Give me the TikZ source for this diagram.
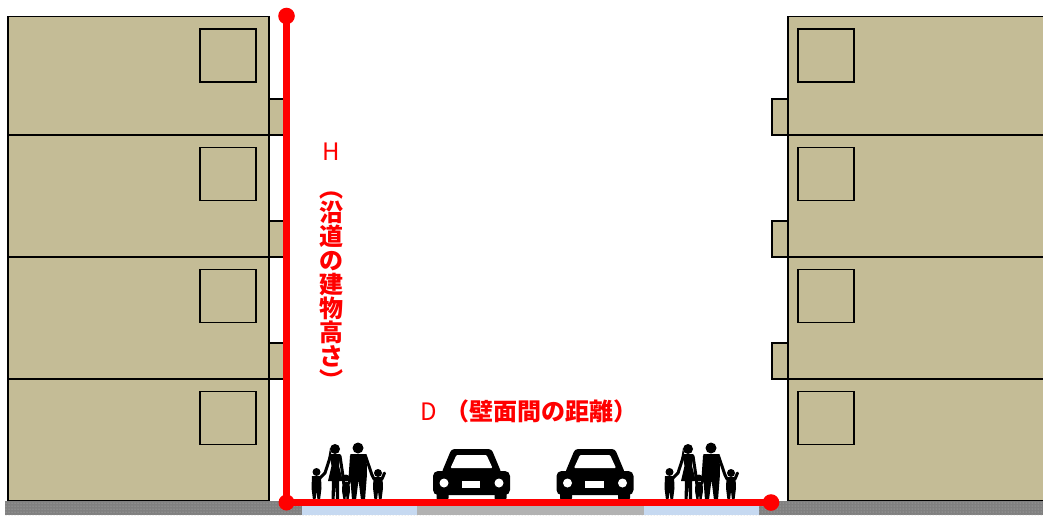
\documentclass[tikz,border=0pt]{standalone}
\usepackage{fontspec}
\newfontfamily\cjk{Noto Sans CJK JP}
\usetikzlibrary{patterns}
\definecolor{wallfill}{RGB}{196,188,150}
\definecolor{groundgray}{RGB}{128,128,128}
\definecolor{walkblue}{RGB}{198,217,241}
\definecolor{roadgray}{RGB}{178,178,178}
\tikzset{
  wall/.style={draw=black, line width=1.5pt, fill=wallfill},
  pane/.style={draw=black, line width=1.5pt},
  redline/.style={draw=red, line width=6.5pt},
  redtext/.style={text=red, inner sep=0pt, font=\cjk\fontsize{24}{24}\selectfont},
  person/.style={fill=black},
  limb/.style={draw=black, line width=3pt, line cap=round},
  family/.pic={
    % left child
    \fill[person] (4.5,-28) circle (4);
    \fill[person] (0,-24) -- (9,-24) -- (9.5,-12) -- (8,0) -- (5.5,0) -- (4.5,-9) -- (3.5,0) -- (1,0) -- (-0.5,-12) -- cycle;
    \draw[limb] (8,-22) -- (13,-27);
    % mother
    \fill[person] (23,-51) circle (5);
    \fill[person] (18,-52) -- (16,-40) -- (20,-42) -- cycle;
    \fill[person] (17.5,-46) -- (28.5,-46) -- (27,-34) -- (31,-19) -- (27,-19) -- (27,0) -- (24,0) -- (23.5,-16) -- (22.5,0) -- (19.5,0) -- (20,-19) -- (16,-19) -- (19.5,-34) -- cycle;
    \draw[limb] (18.5,-44) -- (13,-27);
    \draw[limb] (28,-44) -- (31,-24);
    % small child
    \fill[person] (34,-22) circle (3.5);
    \fill[person] (30.5,-18) -- (37.5,-18) -- (38,-9) -- (36.5,0) -- (34.5,0) -- (34,-7) -- (33.5,0) -- (31.5,0) -- (30,-9) -- cycle;
    \draw[limb] (31,-17) -- (31,-24);
    \draw[limb] (37,-17) -- (38,-22);
    % father
    \fill[person] (46,-52) circle (5.5);
    \fill[person] (38.5,-46) -- (54.5,-46) -- (55,-26) -- (53,0) -- (49,0) -- (46.5,-20) -- (44,0) -- (40,0) -- (38,-26) -- cycle;
    \draw[limb] (39.5,-44) -- (38,-22);
    \draw[limb] (53.5,-44) -- (60,-25);
    % right child
    \fill[person] (66,-27) circle (4);
    \fill[person] (61.5,-23) -- (70.5,-23) -- (71,-12) -- (69.5,0) -- (67,0) -- (66,-9) -- (65,0) -- (62.5,0) -- (61,-12) -- cycle;
    \draw[limb] (62,-21) -- (60,-25);
    \draw[limb] (70,-21) -- (72.5,-27);
  },
  car/.pic={
    \fill[black, rounded corners=3pt] (-20,-51) -- (20,-51) -- (30,-27) -- (-30,-27) -- cycle;
    \fill[black, rounded corners=5pt] (-38.5,-29) rectangle (38.5,-5);
    \fill[black, rounded corners=2pt] (-35,-8) rectangle (-23,0);
    \fill[black, rounded corners=2pt] (23,-8) rectangle (35,0);
    \fill[white, rounded corners=1pt] (-15,-45) -- (15,-45) -- (21,-32) -- (-21,-32) -- cycle;
    \fill[white] (-27.5,-17) circle (4.5);
    \fill[white] (27.5,-17) circle (4.5);
    \fill[white] (-10,-19) rectangle (8.5,-12);
  }
}
% one storey: top and bottom edge of the slab
\def\leftfloor(#1:#2){%
  \draw[wall] (8,#1) rectangle (269,#2);
  \draw[pane] (200,{#1+12.5}) rectangle (256,{#1+65.5});}
\def\rightfloor(#1:#2){%
  \draw[wall] (788,#1) rectangle (1050,#2);
  \draw[pane] (798,{#1+12.5}) rectangle (854,{#1+65.5});}

\begin{document}
\begin{tikzpicture}[x=1pt, y=-1pt]
  \clip (0,0) rectangle (1043,515);
  \fill[white] (0,0) rectangle (1043,515);

  %%%%% GROUND %%%%%
  \fill[groundgray] (5,501) rectangle (1043,515);
  \fill[pattern=dots, pattern color=gray!55] (5,501) rectangle (1043,515);
  \fill[walkblue] (302,501) rectangle (416.5,515);
  \fill[roadgray] (416.5,501) rectangle (644,515);
  \fill[walkblue] (644,501) rectangle (758.5,515);

  %%%%% BUILDINGS %%%%%
  \draw[wall] (269,99) rectangle (287,135);
  \draw[wall] (269,221) rectangle (287,257);
  \draw[wall] (269,343) rectangle (287,379);
  \leftfloor(16.7:135)
  \leftfloor(135:257)
  \leftfloor(257:379)
  \leftfloor(379:500.5)

  \draw[wall] (772,99) rectangle (788,135);
  \draw[wall] (772,221) rectangle (788,257);
  \draw[wall] (772,343) rectangle (788,379);
  \rightfloor(16.7:135)
  \rightfloor(135:257)
  \rightfloor(257:379)
  \rightfloor(379:500.5)

  %%%%% STREET %%%%%
  \pic at (312,500) {family};
  \pic at (665,500) {family};
  \pic at (471.5,500) {car};
  \pic at (595,500) {car};

  %%%%% H AND D %%%%%
  \coordinate (top) at (286.5,16);
  \coordinate (corner) at (286.5,502.5);
  \coordinate (far) at (771,502.5);
  \draw[redline] (top) -- (corner) -- (far);
  \fill[red] (top) circle (8.3);
  \fill[red] (corner) circle (8);
  \fill[red] (far) circle (8.3);

  \node[redtext] (hlabel) at (331,152) {H};
  \node[redtext, align=center] (hname) at (331,291)
    {\bfseries ︵\\\bfseries 沿\\\bfseries 道\\\bfseries の\\\bfseries 建\\\bfseries 物\\\bfseries 高\\\bfseries さ\\\bfseries ︶};
  \node[redtext] (dlabel) at (529,411) {D\hspace{8pt}{\bfseries （壁面間の距離）}};
\end{tikzpicture}
\end{document}
